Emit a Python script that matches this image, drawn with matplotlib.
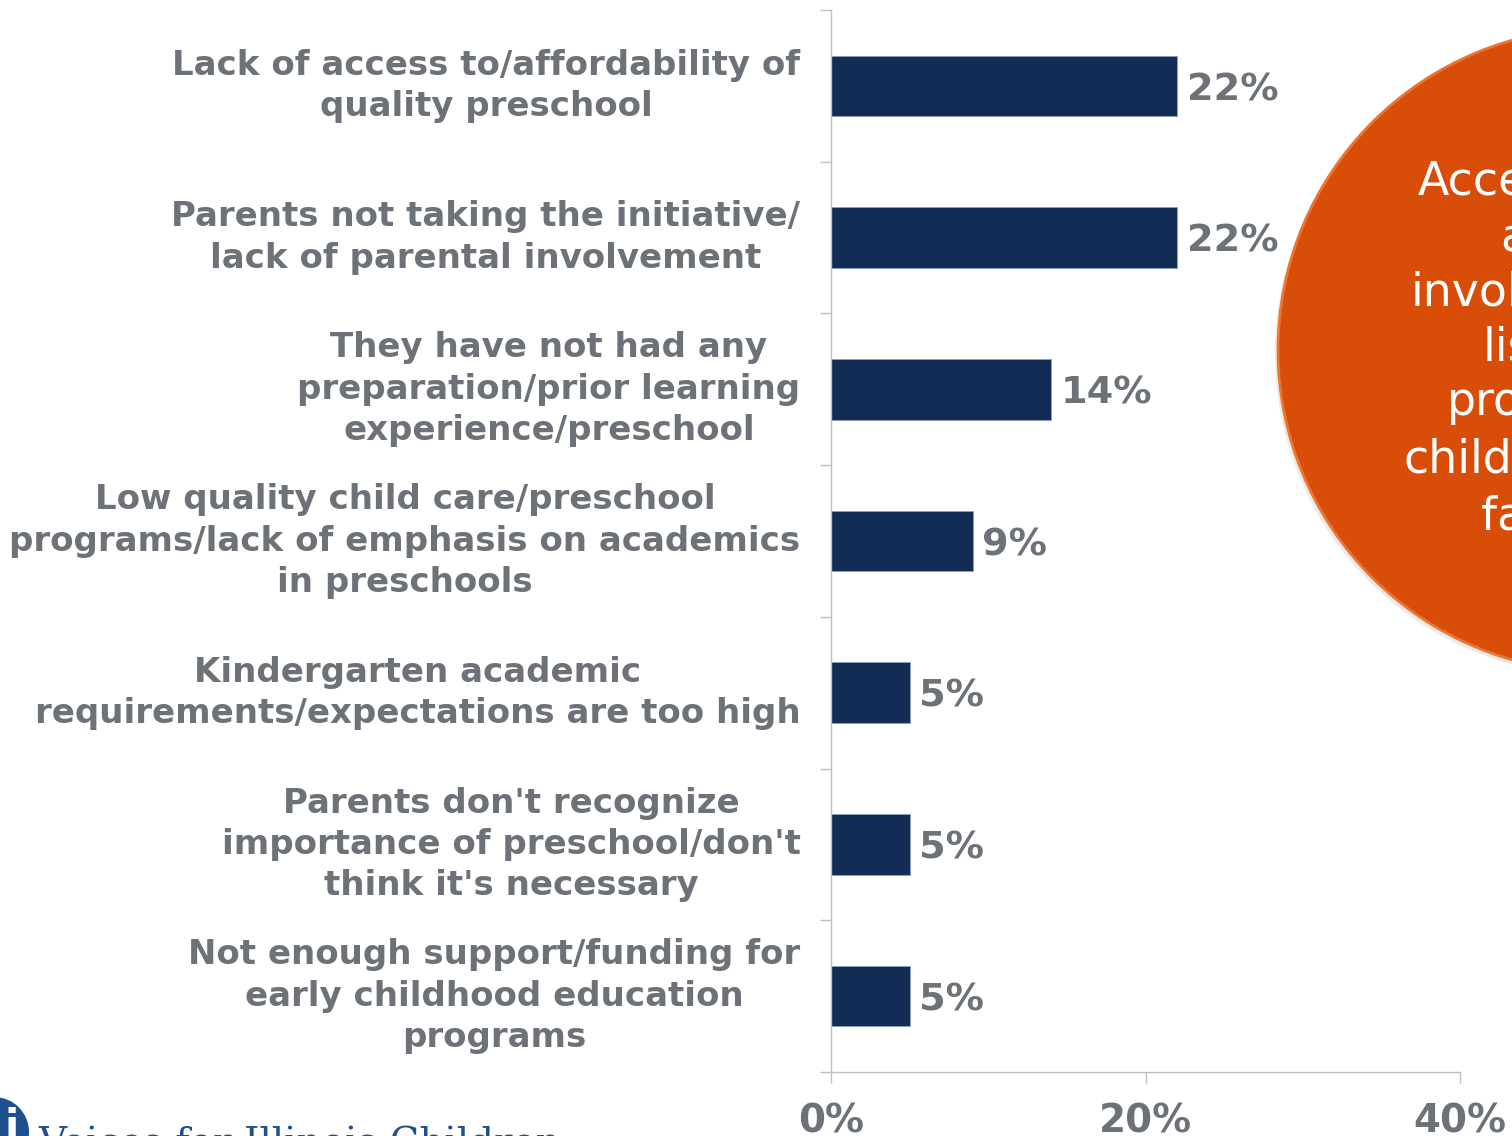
import numpy as np
import matplotlib.pyplot as plt
from matplotlib.patches import Circle
from matplotlib.transforms import Affine2D

# data
categories = [
    "Lack of access to/affordability of\nquality preschool",
    "Parents not taking the initiative/\nlack of parental involvement",
    "They have not had any\npreparation/prior learning\nexperience/preschool",
    "Low quality child care/preschool\nprograms/lack of emphasis on academics\nin preschools",
    "Kindergarten academic\nrequirements/expectations are too high",
    "Parents don't recognize\nimportance of preschool/don't\nthink it's necessary",
    "Not enough support/funding for\nearly childhood education\nprograms",
]
values = [22, 22, 14, 9, 5, 5, 5]
x_ticks = [0, 20, 40]
x_tick_labels = ["0%", "20%", "40%"]
callout_lines = ["Access", "and", "involvement", "listed", "problems", "children", "families"]

BAR = "#132C55"
GRAY = "#6D7178"
AXIS = "#BFBFBF"
ORANGE = "#D84D08"

W, H = 1512, 1136
fig = plt.figure(figsize=(W / 100, H / 100), dpi=100)
ax = fig.add_axes([831 / W, 1 - 1072 / H, 629 / W, 1062 / H])

y = np.arange(len(categories))
bars = ax.barh(y, values, height=0.4, color=BAR, edgecolor="#8EA0BC", linewidth=0.6)
ax.set_ylim(len(categories) - 0.5, -0.5)
ax.set_xlim(0, 40)

# category labels: right aligned block, lines centred
ax.set_yticks(y)
ax.set_yticklabels([])
ax.tick_params(axis="y", which="major", length=0)
for yi, cat in zip(y, categories):
    ax.annotate(cat, xy=(0, yi), xycoords=("axes fraction", "data"),
                xytext=(-22, 0), textcoords="offset points",
                ha="right", va="center", multialignment="center",
                fontsize=24.5, fontweight="bold", color=GRAY, linespacing=1.32)

ax.set_yticks(np.arange(-0.5, len(categories), 1), minor=True)
ax.tick_params(axis="y", which="minor", length=8, color=AXIS, width=1)

ax.set_xticks(x_ticks)
ax.set_xticklabels(x_tick_labels, fontsize=28, fontweight="bold", color=GRAY)
ax.tick_params(axis="x", length=8, color=AXIS, width=1, pad=14)

for s in ["top", "right"]:
    ax.spines[s].set_visible(False)
for s in ["left", "bottom"]:
    ax.spines[s].set_color(AXIS)
    ax.spines[s].set_linewidth(1)

# value labels
for yi, v in zip(y, values):
    ax.annotate(f"{v}%", xy=(v, yi), xytext=(7, -3), textcoords="offset points",
                ha="left", va="center", fontsize=27.5, fontweight="bold", color=GRAY)

# orange callout circle (pixel coordinates, origin top-left)
px = Affine2D().scale(1 / 100, -1 / 100).translate(0, H / 100) + fig.dpi_scale_trans
fig.add_artist(Circle((1597, 354), 322, transform=px, facecolor="#b0b0b0",
                      edgecolor="none", alpha=0.25, zorder=5))
fig.add_artist(Circle((1600, 350), 322, transform=px, facecolor=ORANGE,
                      edgecolor="#EE7430", linewidth=2, zorder=6))

callout_x = [1418, 1500, 1411, 1483, 1447, 1403, 1481]
callout_y = [182, 238, 293, 348, 403, 460, 517]
for t, xx, yy in zip(callout_lines, callout_x, callout_y):
    fig.text(xx / W, 1 - yy / H, t, fontsize=33, color="white",
             ha="left", va="center", zorder=7)

# logo remnant at bottom left
fig.add_artist(Circle((-6, 1132), 35, transform=px, facecolor="#1F4F8F",
                      edgecolor="none", zorder=6))
fig.text(4 / W, 1 - 1128 / H, "i", fontsize=30, fontweight="bold",
         color="white", ha="left", va="center", zorder=7)
fig.text(38 / W, 1 - 1127 / H, "Voices for Illinois Children", fontsize=28,
         color="#1F4F8F", ha="left", va="top", family="DejaVu Serif", zorder=7)

fig.savefig("out.png", dpi=100)
